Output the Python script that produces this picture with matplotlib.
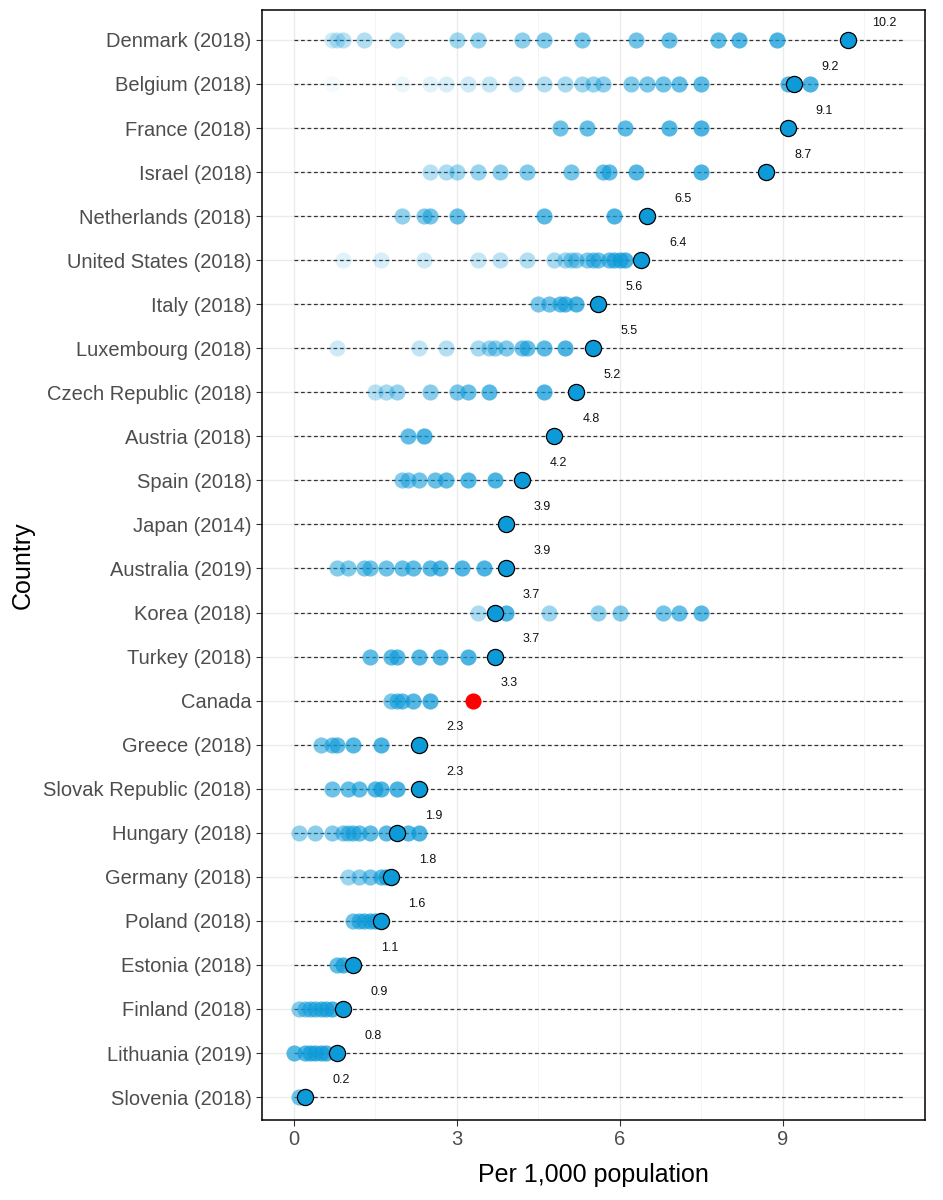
import numpy as np
import matplotlib.pyplot as plt

# countries, top to bottom
countries = ['Denmark (2018)', 'Belgium (2018)', 'France (2018)', 'Israel (2018)',
             'Netherlands (2018)', 'United States (2018)', 'Italy (2018)',
             'Luxembourg (2018)', 'Czech Republic (2018)', 'Austria (2018)',
             'Spain (2018)', 'Japan (2014)', 'Australia (2019)', 'Korea (2018)',
             'Turkey (2018)', 'Canada', 'Greece (2018)', 'Slovak Republic (2018)',
             'Hungary (2018)', 'Germany (2018)', 'Poland (2018)', 'Estonia (2018)',
             'Finland (2018)', 'Lithuania (2019)', 'Slovenia (2018)']

# values per country in time order, last one = latest year
denmark = [0.7, 0.8, 0.9, 1.3, 1.9, 3.0, 3.4, 4.2, 4.6, 5.3, 6.3, 6.9, 7.8, 8.2, 8.9, 10.2]
belgium = [0.7, 2.0, 2.5, 2.8, 3.2, 3.6, 4.1, 4.6, 5.0, 5.3, 5.5, 5.7, 6.2, 6.5, 6.8,
           7.1, 7.5, 9.1, 9.5, 9.2]
france = [4.9, 5.4, 6.1, 6.9, 7.5, 9.1]
israel = [2.5, 2.8, 3.0, 3.4, 3.8, 4.3, 5.1, 5.7, 5.8, 6.3, 7.5, 8.7]
netherlands = [2.0, 2.4, 2.5, 3.0, 4.6, 5.9, 6.5]
united_states = [0.9, 1.6, 2.4, 3.4, 3.8, 4.3, 4.8, 5.0, 5.1, 5.2, 5.4, 5.5, 5.6,
                 5.8, 5.9, 6.0, 6.1, 6.4]
italy = [4.5, 4.7, 4.9, 5.0, 5.2, 5.6]
luxembourg = [0.8, 2.3, 2.8, 3.4, 3.6, 3.7, 3.9, 4.2, 4.3, 4.6, 5.0, 5.5]
czech = [1.5, 1.7, 1.9, 2.5, 3.0, 3.2, 3.6, 4.6, 5.2]
austria = [2.1, 2.4, 4.8]
spain = [2.0, 2.1, 2.3, 2.6, 2.8, 3.2, 3.7, 4.2]
japan = [3.9]
australia = [0.8, 1.0, 1.3, 1.4, 1.7, 2.0, 2.2, 2.5, 2.7, 3.1, 3.5, 3.9]
korea = [3.4, 4.7, 5.6, 6.0, 6.8, 7.1, 7.5, 3.9, 3.7]
turkey = [1.4, 1.8, 1.9, 2.3, 2.7, 3.2, 3.7]
canada = [1.8, 1.9, 2.0, 2.2, 2.5, 3.3]
greece = [0.5, 0.7, 0.8, 1.1, 1.6, 2.3]
slovakia = [0.7, 1.0, 1.2, 1.5, 1.6, 1.9, 2.3]
hungary = [0.1, 0.4, 0.7, 0.9, 1.0, 1.1, 1.2, 1.4, 1.7, 2.1, 2.3, 1.9]
germany = [1.0, 1.2, 1.4, 1.6, 1.7, 1.8]
poland = [1.1, 1.2, 1.3, 1.4, 1.5, 1.6]
estonia = [0.8, 0.9, 1.1]
finland = [0.1, 0.2, 0.3, 0.4, 0.5, 0.6, 0.7, 0.9]
lithuania = [0.0, 0.2, 0.3, 0.4, 0.5, 0.6, 0.8]
slovenia = [0.1, 0.2]

series = [denmark, belgium, france, israel, netherlands, united_states, italy,
          luxembourg, czech, austria, spain, japan, australia, korea, turkey,
          canada, greece, slovakia, hungary, germany, poland, estonia, finland,
          lithuania, slovenia]

# transparency of the oldest point in each row (older years are fainter)
start_alpha = [0.2, 0.04, 0.6, 0.3, 0.45, 0.12, 0.55, 0.2, 0.3, 0.65, 0.5, 0.7,
               0.5, 0.35, 0.65, 0.55, 0.55, 0.6, 0.45, 0.4, 0.6, 0.65, 0.5, 0.7, 0.6]

BLUE = '#0D9AD8'
plt.rcParams['font.family'] = ['Liberation Sans', 'DejaVu Sans']

fig = plt.figure(figsize=(9.43, 12), dpi=100)
ax = fig.add_axes([0.278, 0.0667, 0.703, 0.925])

seg_end = max(max(s) for s in series) * 1.1

for i, (name, vals) in enumerate(zip(countries, series)):
    ax.plot([0, seg_end], [i, i], color='#333333', linestyle=(0, (3, 2.2)),
            linewidth=0.9, zorder=2)
    older = vals[:-1]
    if older:
        alphas = np.linspace(start_alpha[i], 0.75, len(older))
        for v, a in zip(older, alphas):
            ax.scatter(v, i, s=135, color=BLUE, alpha=a, linewidths=0, zorder=3)
    last = vals[-1]
    if name == 'Canada':
        ax.scatter(last, i, s=135, color='#FF0000', linewidths=0, zorder=4)
    else:
        ax.scatter(last, i, s=135, color=BLUE, edgecolors='black',
                   linewidths=0.9, zorder=4)
    ax.text(last + 0.67, i - 0.39, f'{last:.1f}', ha='center', va='center',
            fontsize=9, color='#111111', zorder=5)

ax.set_yticks(range(len(countries)))
ax.set_yticklabels(countries)
ax.set_ylim(len(countries) - 0.48, -0.68)
ax.set_xlim(-0.58, 11.62)
ax.set_xticks([0, 3, 6, 9])
ax.set_xticks([1.5, 4.5, 7.5, 10.5], minor=True)

ax.grid(True, which='major', color='#EBEBEB', linewidth=1.0, zorder=0)
ax.grid(True, which='minor', axis='x', color='#F3F3F3', linewidth=0.6, zorder=0)
ax.set_axisbelow(True)

ax.tick_params(axis='both', which='major', labelsize=14.5, labelcolor='#4D4D4D',
               length=4, width=0.8, color='#333333')
ax.tick_params(axis='x', which='minor', length=0)
for sp in ax.spines.values():
    sp.set_linewidth(1.1)
    sp.set_color('black')

ax.set_xlabel('Per 1,000 population', fontsize=18, labelpad=10)
ax.set_ylabel('Country', fontsize=18, labelpad=6)

plt.savefig('out.png', dpi=100)
